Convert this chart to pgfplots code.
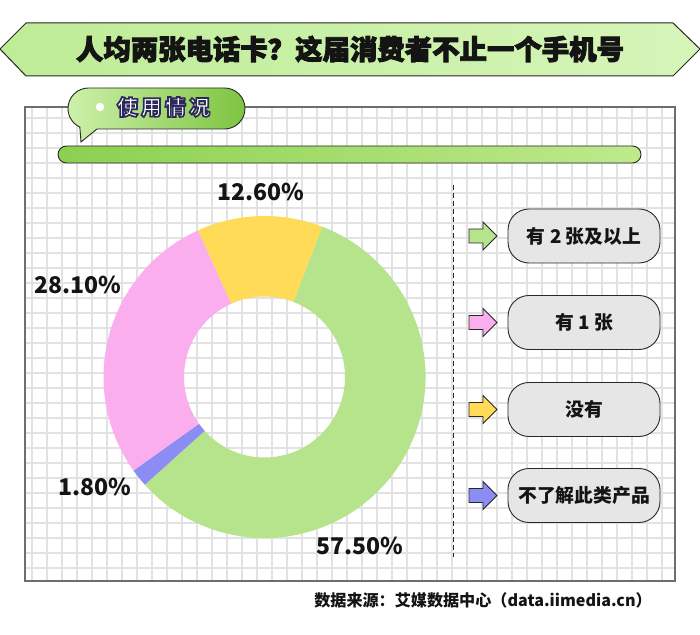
\documentclass[border=0pt]{standalone}
\usepackage{pgfplots}
\pgfplotsset{compat=1.18}
\usepackage{fontspec}
\setmainfont{Noto Sans CJK SC}
\definecolor{pgreen}{RGB}{181,228,140}
\definecolor{ppink}{RGB}{251,174,238}
\definecolor{pyellow}{RGB}{255,219,88}
\definecolor{ppurple}{RGB}{140,140,245}
\definecolor{gridc}{RGB}{226,226,226}
\definecolor{panelb}{RGB}{110,110,110}
\definecolor{darkline}{RGB}{40,40,40}
\definecolor{tL}{RGB}{190,236,150}
\definecolor{tR}{RGB}{214,245,186}
\definecolor{gL}{RGB}{205,240,170}
\definecolor{gR}{RGB}{126,196,66}
\definecolor{bL}{RGB}{140,208,80}
\definecolor{bR}{RGB}{190,234,140}
\definecolor{boxg}{RGB}{230,230,230}
\definecolor{txt}{RGB}{20,20,20}
% donut data (percent)
\def\vA{57.5}\def\vB{1.8}\def\vC{28.1}\def\vD{12.6}
\pgfmathsetmacro\aZ{69}
\pgfmathsetmacro\aA{\aZ-3.6*\vA}
\pgfmathsetmacro\aB{\aA-3.6*\vB}
\pgfmathsetmacro\aC{\aB-3.6*\vC}
\pgfmathsetmacro\aD{\aC-3.6*\vD}
\newcommand\slice[3]{%
  \fill[#3] (axis cs:{cos(#1)},{sin(#1)}) arc[start angle=#1, end angle=#2, radius=161pt]
     -- (axis cs:{0.5*cos(#2)},{0.5*sin(#2)}) arc[start angle=#2, end angle=#1, radius=80.5pt] -- cycle;}
% text with stroked outline (fill + stroke render mode)
\newcommand\strk[3]{\special{pdf:literal direct 2 Tr #1 w #2 RG}#3\special{pdf:literal direct 0 Tr}}
\begin{document}
\begin{tikzpicture}[x=1pt,y=1pt]
\useasboundingbox (0,0) rectangle (700,634);
\fill[white] (0,0) rectangle (700,634);
% panel with grid
\fill[white] (25,53) rectangle (675,527);
\begin{scope}
\clip (25,53) rectangle (675,527);
\foreach \i in {0,...,42} {\draw[gridc, line width=1.2pt] ({32+15*\i},53) -- ({32+15*\i},527);}
\foreach \j in {0,...,30} {\draw[gridc, line width=1.2pt] (25,{516-15*\j}) -- (675,{516-15*\j});}
\end{scope}
\draw[panelb, line width=1.2pt] (25,53) rectangle (675,527);
% title banner
\path[left color=tL, right color=tR, draw=darkline, line width=1pt]
  (0,585) -- (26,611) -- (673,611) -- (700,585) -- (673,558) -- (26,558) -- cycle;
\node[txt, font=\fontsize{27.4}{30}\selectfont\bfseries] at (350,585) {\strk{0.9}{0.08 0.08 0.08}{人均两张电话卡？这届消费者不止一个手机号}};
% green bar
\path[draw=darkline, line width=0.9pt, left color=bL, right color=bR, rounded corners=8.5pt] (58,471) rectangle (641,488);
% tag bubble
\path[draw=darkline, line width=0.9pt, left color=gL, right color=gR]
  (97,505) -- (224.5,505) arc[start angle=-90, end angle=90, radius=20.5] -- (88.5,546)
  arc[start angle=90, end angle=245, radius=20.5] -- (81,492) -- cycle;
\fill[white] (100,527) circle (4.2);
\node[white, font=\fontsize{21}{24}\selectfont\bfseries] at (163.5,527) {\strk{1.7}{0.18 0.16 0.36}{使\hspace{3pt}用\hspace{3pt}情\hspace{3pt}况}};
% donut
\begin{axis}[at={(264.5pt,257pt)}, anchor=center, scale only axis, width=322pt, height=322pt,
  xmin=-1, xmax=1, ymin=-1, ymax=1, hide axis, clip=false]
\slice{\aZ}{\aA}{pgreen}
\slice{\aA}{\aB}{ppurple}
\slice{\aB}{\aC}{ppink}
\slice{\aC}{\aD}{pyellow}
\node[txt, font=\fontsize{23}{26}\selectfont\bfseries] at (axis cs:-0.02,1.15) {12.60\%};
\node[txt, font=\fontsize{23}{26}\selectfont\bfseries] at (axis cs:-1.158,0.571) {28.10\%};
\node[txt, font=\fontsize{23}{26}\selectfont\bfseries] at (axis cs:-1.053,-0.683) {1.80\%};
\node[txt, font=\fontsize{23}{26}\selectfont\bfseries] at (axis cs:0.593,-1.05) {57.50\%};
\end{axis}
% dashed divider
\draw[darkline, dash pattern=on 5pt off 3pt, line width=1pt] (453,449) -- (453,77);
% legend
\foreach \yy/\c/\t in {398/pgreen/{有 2 张及以上}, 311.5/ppink/{有 1 张}, 224.5/pyellow/{没有}, 138.5/ppurple/{不了解此类产品}} {
  \draw[fill=\c, draw=darkline, line width=0.9pt, line join=miter]
    (469,\yy-7) -- (483,\yy-7) -- (483,\yy-14) -- (497,\yy) -- (483,\yy+14) -- (483,\yy+7) -- (469,\yy+7) -- cycle;
  \draw[fill=boxg, draw=darkline, line width=0.9pt, rounded corners=21pt] (508,\yy-27) rectangle (660,\yy+27);
  \node[txt, font=\fontsize{18.8}{22}\selectfont\bfseries] at (584,\yy) {\t};
}
% source
\node[txt, anchor=east, inner sep=0pt, font=\fontsize{16.1}{19}\selectfont\bfseries] at (652,34) {数据来源：艾媒数据中心（data.iimedia.cn）};
\end{tikzpicture}
\end{document}
